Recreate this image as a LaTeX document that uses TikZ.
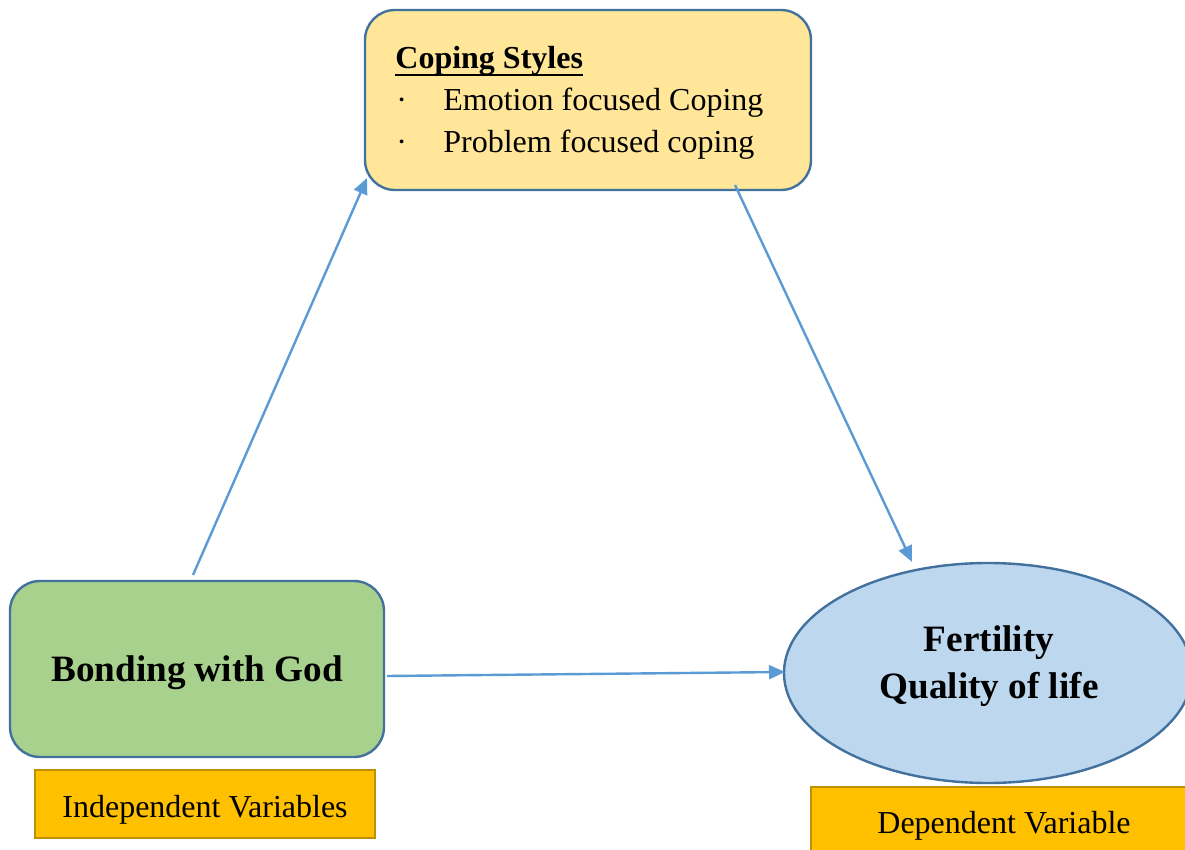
\documentclass[tikz,border=0pt]{standalone}
\usepackage{fontspec}
\setmainfont{Liberation Serif}
\usetikzlibrary{arrows.meta,shapes.geometric}
\definecolor{cyellow}{HTML}{FFE699}
\definecolor{cgreen}{HTML}{A9D18E}
\definecolor{cblue}{HTML}{BDD7EE}
\definecolor{corange}{HTML}{FFC000}
\definecolor{cgold}{HTML}{BF9000}
\definecolor{cborder}{HTML}{41719C}
\definecolor{carrow}{HTML}{5B9BD5}
\begin{document}
\begin{tikzpicture}[x=0.5pt,y=-0.5pt,
  mainbox/.style={draw=cborder,line width=1.2pt,rounded corners=15pt,inner sep=0pt},
  varbox/.style={draw=cgold,fill=corange,line width=1pt,inner sep=0pt},
  regtext/.style={inner sep=0pt,font=\fontsize{16}{20}\selectfont},
  boldtext/.style={inner sep=0pt,font=\fontsize{18.6}{22}\selectfont\bfseries},
  conn/.style={draw=carrow,line width=1.2pt,-{Triangle[length=8pt,width=7pt]}}]
\useasboundingbox (0,0) rectangle (1185,850);
\clip (0,0) rectangle (1185,850);
\fill[white] (0,0) rectangle (1185,850);
% shapes
\node[mainbox,fill=cyellow,minimum width=223pt,minimum height=90pt] (cope) at (588,100) {};
\node[mainbox,fill=cgreen,minimum width=187pt,minimum height=88pt] (bond) at (197,669) {};
\node[draw=cborder,fill=cblue,line width=1.2pt,ellipse,inner sep=0pt,minimum width=204pt,minimum height=110pt] (fert) at (988,673) {};
\node[varbox,minimum width=170pt,minimum height=34pt] (indep) at (205,804) {};
\node[varbox,minimum width=200pt,minimum height=40pt] (dep) at (1011,827) {};
% texts
\node[regtext,font=\fontsize{16}{20}\selectfont\bfseries,anchor=base west] (cs) at (395,69) {Coping Styles};
\draw[line width=1pt] ([yshift=-3pt]cs.base west) -- ([yshift=-3pt]cs.base east);
\node[regtext,anchor=base west] (b1) at (396,111) {·};
\node[regtext,anchor=base west] (t1) at (443,111) {Emotion focused Coping};
\node[regtext,anchor=base west] (b2) at (396,153) {·};
\node[regtext,anchor=base west] (t2) at (443,153) {Problem focused coping};
\node[boldtext,anchor=base] (bt) at (197,682) {Bonding with God};
\node[boldtext,anchor=base] (f1) at (989,651) {Fertility};
\node[boldtext,anchor=base] (f2) at (989,698) {Quality of life};
\node[regtext,anchor=base] (it) at (205,817) {Independent Variables};
\node[regtext,anchor=base] (dt) at (1004,833) {Dependent Variable};
% connectors
\coordinate (s1) at (193,575);
\coordinate (e1) at (367,178);
\coordinate (s2) at (735,185);
\coordinate (e2) at (912,562);
\coordinate (s3) at (387,676);
\coordinate (e3) at (785,672);
\draw[conn] (s1) -- (e1);
\draw[conn] (s2) -- (e2);
\draw[conn] (s3) -- (e3);
\end{tikzpicture}
\end{document}
